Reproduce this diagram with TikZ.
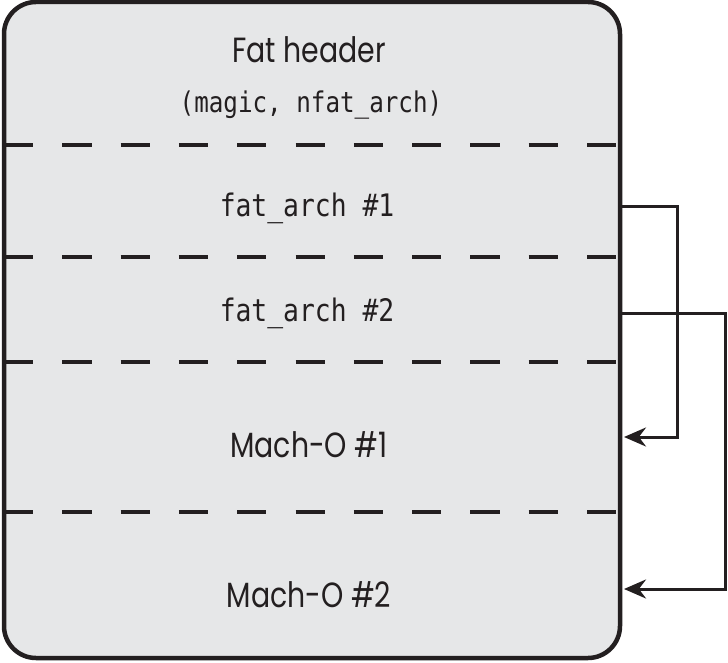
\documentclass[tikz,border=0pt]{standalone}
\usepackage{fontspec}
\setmainfont{Poppins}
\newfontfamily\headfont[FakeStretch=0.81]{Poppins}
\newfontfamily\codefont[FakeStretch=0.85]{DejaVu Sans Mono}
\usetikzlibrary{arrows.meta}
\definecolor{boxfill}{HTML}{E6E7E8}
\definecolor{ink}{HTML}{231F20}
\begin{document}
\begin{tikzpicture}[x=1pt,y=-1pt,
  sectext/.style={anchor=base, text=ink, inner sep=0pt, font=\headfont\fontsize{35}{35}\selectfont},
  monotext/.style={anchor=base, text=ink, inner sep=0pt, font=\codefont\fontsize{28.5}{29}\selectfont},
  archtext/.style={anchor=base, text=ink, inner sep=0pt, font=\codefont\fontsize{31}{31}\selectfont},
  divider/.style={draw=ink, line width=4.5pt, dash pattern=on 29.2pt off 29.1pt},
  link/.style={draw=ink, line width=3pt, -{Stealth[length=22pt,width=19pt]}}]
\useasboundingbox (0,0) rectangle (728,663);
\node[draw=ink, line width=4.5pt, fill=boxfill, rounded corners=32pt, minimum width=616pt, minimum height=656pt, inner sep=0pt, outer sep=0pt] (box) at (312,330) {};
\foreach \yy in {145,257,362,512} {
  \draw[divider] (box.west |- 0,\yy) -- (box.east |- 0,\yy);
}
\node[sectext] (hdr) at (309,63) {Fat header};
\node[monotext] (hdrsub) at (311,113) {(magic, nfat\_arch)};
\node[archtext] (fa1) at (307,216) {fat\_arch \#1};
\node[archtext] (fa2) at (307,321) {fat\_arch \#2};
\node[sectext] (mo1) at (309,457) {Mach-O \#1};
\node[sectext] (mo2) at (309,607) {Mach-O \#2};
\coordinate (fa1e) at (box.east |- 0,207);
\coordinate (fa2e) at (box.east |- 0,313);
\coordinate (mo1e) at (624,437);
\coordinate (mo2e) at (624,589);
\draw[link] (fa1e) -- (677,207) |- (mo1e);
\draw[link] (fa2e) -- (725,313) |- (mo2e);
\end{tikzpicture}
\end{document}
